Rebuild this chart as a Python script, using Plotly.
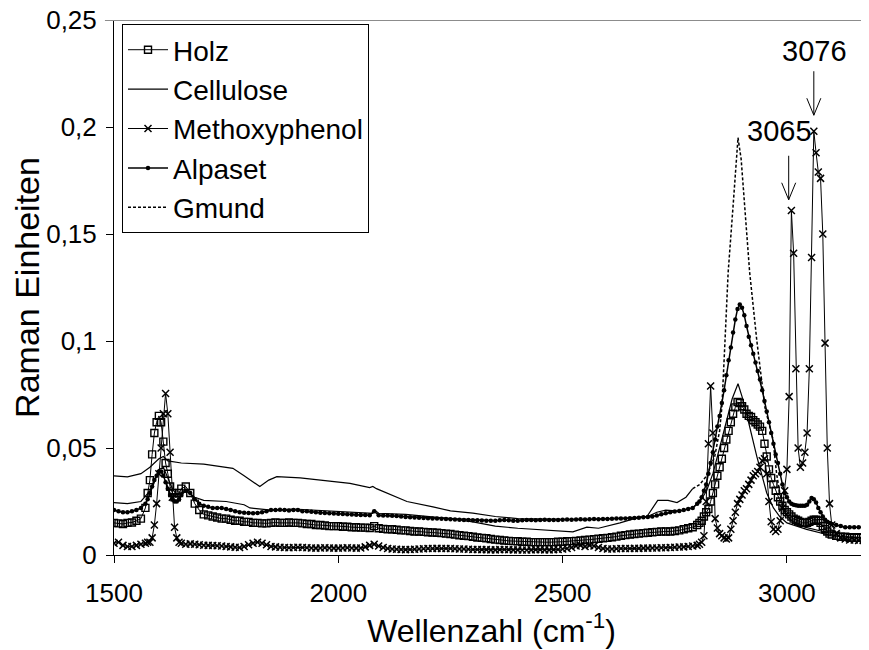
import plotly.graph_objects as go

# shared wavenumber grid (cm-1) for the marker series
wavenumber = [
    1500, 1510, 1520, 1530, 1540, 1550, 1560, 1570,
    1575, 1580, 1585, 1590, 1595, 1600, 1605, 1610, 1615, 1620, 1625, 1630, 1635, 1640, 1645, 1650,
    1660, 1670, 1680, 1690, 1700, 1710, 1720, 1730, 1740, 1750,
    1760, 1770, 1780, 1790, 1800, 1810, 1820, 1830, 1840, 1850,
    1860, 1870, 1880, 1890, 1900, 1910, 1920, 1930, 1940, 1950,
    1960, 1970, 1980, 1990, 2000, 2010, 2020, 2030, 2040, 2050,
    2060, 2070, 2080, 2090, 2100, 2110, 2120, 2130, 2140, 2150,
    2160, 2170, 2180, 2190, 2200, 2210, 2220, 2230, 2240, 2250,
    2260, 2270, 2280, 2290, 2300, 2310, 2320, 2330, 2340, 2350,
    2360, 2370, 2380, 2390, 2400, 2410, 2420, 2430, 2440, 2450,
    2460, 2470, 2480, 2490, 2500, 2510, 2520, 2530, 2540, 2550,
    2560, 2570, 2580, 2590, 2600, 2610, 2620, 2630, 2640, 2650,
    2660, 2670, 2680, 2690, 2700, 2710, 2720, 2730, 2740, 2750,
    2760, 2770, 2780, 2790, 2800,
    2805, 2810, 2815, 2820, 2825, 2830, 2835, 2840, 2845, 2850,
    2855, 2860, 2865, 2870, 2875, 2880, 2885, 2890, 2895, 2900,
    2905, 2910, 2915, 2920, 2925, 2930, 2935, 2940, 2945, 2950,
    2955, 2960, 2965, 2970, 2975, 2980, 2985, 2990, 2995, 3000,
    3005, 3010, 3015, 3020, 3025, 3030, 3035, 3040, 3045, 3050,
    3055, 3060, 3065, 3070, 3075, 3080, 3085, 3090, 3095, 3100,
    3110, 3120, 3130, 3140, 3150, 3160, 3170, 3180,
]

holz = [
    0.015, 0.0148, 0.0145, 0.015, 0.0152, 0.016, 0.017, 0.022,
    0.029, 0.035, 0.047, 0.057, 0.062, 0.065, 0.062, 0.053, 0.043, 0.038, 0.032, 0.029, 0.027, 0.027, 0.029, 0.031,
    0.032, 0.029, 0.024, 0.021, 0.019, 0.0185, 0.018, 0.0175, 0.017, 0.017,
    0.0165, 0.016, 0.016, 0.0155, 0.0155, 0.015, 0.015, 0.0148, 0.0148, 0.015,
    0.0152, 0.015, 0.015, 0.0152, 0.015, 0.015, 0.0148, 0.0145, 0.0145, 0.014,
    0.014, 0.0138, 0.0135, 0.0135, 0.0135, 0.0132, 0.0132, 0.013, 0.013, 0.0128,
    0.0128, 0.0126, 0.0135, 0.0125, 0.0122, 0.012, 0.012, 0.0118, 0.0115, 0.0115,
    0.0112, 0.011, 0.011, 0.0108, 0.0106, 0.0105, 0.0104, 0.0102, 0.010, 0.0098,
    0.0095, 0.0092, 0.009, 0.0088, 0.0085, 0.0082, 0.008, 0.0078, 0.0075, 0.0072,
    0.007, 0.0068, 0.0066, 0.0065, 0.0064, 0.0062, 0.0062, 0.006, 0.006, 0.006,
    0.006, 0.006, 0.006, 0.0062, 0.0062, 0.0064, 0.0065, 0.0066, 0.0068, 0.007,
    0.0072, 0.0074, 0.0076, 0.0078, 0.008, 0.0083, 0.0086, 0.009, 0.0093, 0.0096,
    0.0098, 0.010, 0.0102, 0.0104, 0.0106, 0.0108, 0.011, 0.011, 0.011, 0.0112,
    0.0115, 0.012, 0.0125, 0.013, 0.014,
    0.015, 0.016, 0.018, 0.020, 0.0215, 0.025, 0.029, 0.033, 0.037, 0.041,
    0.045, 0.050, 0.054, 0.058, 0.062, 0.066, 0.069, 0.0715, 0.071, 0.0695,
    0.068, 0.066, 0.065, 0.0645, 0.063, 0.062, 0.061, 0.060, 0.058, 0.052,
    0.046, 0.040, 0.036, 0.033, 0.030, 0.027, 0.025, 0.023, 0.021, 0.020,
    0.019, 0.018, 0.017, 0.0165, 0.016, 0.0155, 0.015, 0.015, 0.015, 0.0155,
    0.016, 0.0165, 0.0165, 0.016, 0.015, 0.0135, 0.012, 0.011, 0.010, 0.0095,
    0.009, 0.0085, 0.0085, 0.008, 0.008, 0.008, 0.008, 0.008,
]

methoxyphenol = [
    0.0055, 0.006, 0.0045, 0.004, 0.004, 0.0045, 0.005, 0.0055,
    0.006, 0.006, 0.008, 0.014, 0.024, 0.038, 0.050, 0.066, 0.0755, 0.066, 0.048, 0.027, 0.013, 0.008, 0.006, 0.0055,
    0.005, 0.0052, 0.005, 0.0048, 0.0046, 0.0045, 0.0044, 0.0043, 0.0042, 0.004,
    0.0038, 0.0036, 0.0035, 0.004, 0.0048, 0.0055, 0.006, 0.0055, 0.0048, 0.004,
    0.0038, 0.0036, 0.0035, 0.0034, 0.0035, 0.0036, 0.0035, 0.0034, 0.0033, 0.0032,
    0.0033, 0.0034, 0.0033, 0.0032, 0.0032, 0.0033, 0.0034, 0.0033, 0.0032, 0.0033,
    0.0038, 0.0045, 0.005, 0.0042, 0.0035, 0.003, 0.0028, 0.0027, 0.0026, 0.0025,
    0.0026, 0.0027, 0.0028, 0.0029, 0.003, 0.003, 0.0031, 0.003, 0.003, 0.003,
    0.0029, 0.0028, 0.0028, 0.0027, 0.0026, 0.0026, 0.0025, 0.0025, 0.0024, 0.0024,
    0.0025, 0.0026, 0.0025, 0.0024, 0.0024, 0.0023, 0.0023, 0.0024, 0.0025, 0.0025,
    0.0024, 0.0024, 0.0025, 0.0026, 0.0028, 0.003, 0.0035, 0.0042, 0.0045, 0.004,
    0.0045, 0.0042, 0.0035, 0.003, 0.0028, 0.0028, 0.0029, 0.003, 0.003, 0.003,
    0.0031, 0.0031, 0.0032, 0.0032, 0.0033, 0.0033, 0.0034, 0.0034, 0.0035, 0.0036,
    0.0037, 0.0038, 0.004, 0.0042, 0.0045,
    0.005, 0.006, 0.009, 0.025, 0.052, 0.079, 0.057, 0.017, 0.0126, 0.010,
    0.009, 0.008, 0.0075, 0.008, 0.012, 0.016, 0.020, 0.024, 0.026, 0.028,
    0.030, 0.031, 0.033, 0.035, 0.037, 0.038, 0.039, 0.041, 0.044, 0.045,
    0.038, 0.025, 0.0155, 0.012, 0.011, 0.012, 0.016, 0.022, 0.030, 0.040,
    0.074, 0.161, 0.141, 0.087, 0.050, 0.041, 0.043, 0.048, 0.057, 0.087,
    0.139, 0.198, 0.188, 0.179, 0.176, 0.150, 0.099, 0.050, 0.024, 0.014,
    0.010, 0.008, 0.0075, 0.007, 0.007, 0.0068, 0.0068, 0.0068,
]

alpaset = [
    0.021, 0.0205, 0.020, 0.020, 0.0205, 0.021, 0.022, 0.024,
    0.026, 0.029, 0.032, 0.035, 0.037, 0.039, 0.039, 0.037, 0.034, 0.031, 0.028, 0.026, 0.025, 0.025, 0.026, 0.028,
    0.030, 0.029, 0.026, 0.024, 0.023, 0.0225, 0.022, 0.022, 0.022, 0.0215,
    0.021, 0.0205, 0.020, 0.0198, 0.0196, 0.0195, 0.0196, 0.020, 0.0205, 0.021,
    0.021, 0.0212, 0.021, 0.0208, 0.021, 0.021, 0.0205, 0.0205, 0.0202, 0.020,
    0.0198, 0.0196, 0.0195, 0.0194, 0.0193, 0.0192, 0.019, 0.0189, 0.0188, 0.0187,
    0.0187, 0.0186, 0.0205, 0.0186, 0.0185, 0.0184, 0.0183, 0.0182, 0.018, 0.0178,
    0.0176, 0.0175, 0.0174, 0.0173, 0.0172, 0.0171, 0.017, 0.0169, 0.0168, 0.0167,
    0.0166, 0.0165, 0.0164, 0.0163, 0.0162, 0.0162, 0.0161, 0.016, 0.016, 0.016,
    0.0162, 0.0164, 0.0162, 0.016, 0.016, 0.0162, 0.0164, 0.0163, 0.0162, 0.0163,
    0.0165, 0.0164, 0.0163, 0.0164, 0.0165, 0.0166, 0.0165, 0.0166, 0.0167, 0.0166,
    0.0167, 0.0168, 0.0167, 0.0168, 0.0168, 0.0169, 0.017, 0.017, 0.0171, 0.0172,
    0.0173, 0.0174, 0.0176, 0.0178, 0.018, 0.0185, 0.019, 0.0195, 0.020, 0.0203,
    0.0206, 0.021, 0.0215, 0.022, 0.024,
    0.025, 0.027, 0.030, 0.033, 0.038, 0.043, 0.048, 0.054, 0.060, 0.065,
    0.071, 0.077, 0.084, 0.091, 0.097, 0.104, 0.110, 0.115, 0.117, 0.1155,
    0.112, 0.107, 0.102, 0.098, 0.094, 0.090, 0.086, 0.082, 0.077, 0.072,
    0.067, 0.062, 0.057, 0.052, 0.047, 0.043, 0.038, 0.033, 0.029, 0.027,
    0.025, 0.024, 0.0235, 0.0232, 0.023, 0.023, 0.023, 0.023, 0.0235, 0.025,
    0.0266, 0.026, 0.0245, 0.022, 0.020, 0.018, 0.0165, 0.0155, 0.015, 0.0145,
    0.014, 0.0135, 0.013, 0.013, 0.013, 0.013, 0.013, 0.013,
]

# line-only series, sampled where the curve bends
cellulose_wn = [
    1500, 1530, 1560, 1580, 1600, 1610, 1620, 1650, 1700, 1765,
    1790, 1810, 1825, 1845, 1863, 1915, 1975, 2026, 2070, 2077,
    2085, 2120, 2153, 2211, 2250, 2300, 2350, 2400, 2450, 2500,
    2550, 2600, 2650, 2690, 2710, 2730, 2760, 2790, 2806, 2821,
    2835, 2850, 2865, 2878, 2891, 2900, 2910, 2933, 2955, 2970,
    2984, 3000, 3044, 3080, 3100, 3130, 3180,
]
cellulose = [
    0.037, 0.0365, 0.038, 0.041, 0.045, 0.046, 0.044, 0.043, 0.0425, 0.0405,
    0.037, 0.034, 0.032, 0.035, 0.0366, 0.036, 0.0345, 0.0335, 0.0315, 0.032,
    0.031, 0.028, 0.025, 0.0225, 0.0206, 0.0196, 0.018, 0.017, 0.0168, 0.0165,
    0.0165, 0.017, 0.0172, 0.018, 0.020, 0.021, 0.0205, 0.022, 0.025, 0.030,
    0.038, 0.050, 0.062, 0.073, 0.080, 0.074, 0.066, 0.046, 0.029, 0.022,
    0.018, 0.015, 0.012, 0.010, 0.009, 0.0085, 0.008,
]

gmund_wn = [
    1500, 1530, 1560, 1580, 1590, 1600, 1610, 1620, 1630, 1640,
    1660, 1680, 1700, 1750, 1790, 1803, 1850, 1900, 1950, 2000,
    2050, 2077, 2081, 2090, 2150, 2200, 2250, 2300, 2350, 2400,
    2449, 2500, 2523, 2554, 2580, 2628, 2660, 2688, 2700, 2712,
    2735, 2755, 2775, 2790, 2806, 2821, 2839, 2850, 2855, 2862,
    2869, 2880, 2891, 2898, 2906, 2917, 2933, 2951, 2969, 2977,
    2985, 2995, 3010, 3040, 3080, 3120, 3180,
]
gmund = [
    0.0245, 0.024, 0.025, 0.030, 0.035, 0.040, 0.041, 0.036, 0.031, 0.028,
    0.030, 0.027, 0.0255, 0.025, 0.0235, 0.022, 0.021, 0.0215, 0.021, 0.0205,
    0.020, 0.0195, 0.021, 0.0195, 0.019, 0.018, 0.017, 0.0155, 0.0135, 0.0125,
    0.0117, 0.0112, 0.0108, 0.013, 0.0125, 0.015, 0.017, 0.018, 0.0215, 0.0255,
    0.0255, 0.0245, 0.027, 0.031, 0.033, 0.037, 0.046, 0.058, 0.069, 0.100,
    0.132, 0.163, 0.195, 0.185, 0.163, 0.132, 0.100, 0.069, 0.054, 0.038,
    0.028, 0.020, 0.016, 0.013, 0.011, 0.010, 0.010,
]

# peak labels: (text, label x, label y, arrow tip x, arrow tip y)
peak_labels = [
    ("3065", 2984, 0.198, 3004, 0.166),
    ("3076", 3062, 0.2355, 3060, 0.2055),
]

FONT = "Liberation Sans, Arial, sans-serif"

fig = go.Figure()

fig.add_trace(go.Scatter(
    x=wavenumber, y=holz, name="Holz", mode="lines+markers",
    line=dict(color="black", width=1),
    marker=dict(symbol="square-open", size=7, color="black", line=dict(width=1.4, color="black")),
))
fig.add_trace(go.Scatter(
    x=cellulose_wn, y=cellulose, name="Cellulose", mode="lines",
    line=dict(color="black", width=1.2),
))
fig.add_trace(go.Scatter(
    x=wavenumber, y=methoxyphenol, name="Methoxyphenol", mode="lines+markers",
    line=dict(color="black", width=1),
    marker=dict(symbol="x-thin", size=7, color="black", line=dict(width=1.5, color="black")),
))
fig.add_trace(go.Scatter(
    x=wavenumber, y=alpaset, name="Alpaset", mode="lines+markers",
    line=dict(color="black", width=1.5),
    marker=dict(symbol="circle", size=4.5, color="black"),
))

# Gmund: dotted where the curve is steep, looks solid in the flat parts
steep = [2790 <= w <= 2985 for w in gmund_wn]
fig.add_trace(go.Scatter(
    x=gmund_wn,
    y=[v if (w <= 2790 or w >= 2985) else None for w, v in zip(gmund_wn, gmund)],
    mode="lines", showlegend=False, connectgaps=False,
    line=dict(color="black", width=1.2),
))
fig.add_trace(go.Scatter(
    x=gmund_wn,
    y=[v if s else None for v, s in zip(gmund, steep)],
    name="Gmund", mode="lines",
    line=dict(color="black", width=1.5, dash="3px,2px"),
))

for text, tx, ty, ax_, ay_ in peak_labels:
    fig.add_annotation(
        x=tx, y=ty, text=text, showarrow=False,
        font=dict(family=FONT, size=29, color="black"),
    )
    # open V arrow drawn in pixels, anchored at the tip
    fig.add_shape(
        type="path", xref="x", yref="y",
        xsizemode="pixel", ysizemode="pixel",
        xanchor=ax_, yanchor=ay_,
        path="M0,0 L0,44 M-7,17 L0,0 L7,17",
        line=dict(color="black", width=1),
    )

# grey top frame line
fig.add_shape(
    type="line", xref="paper", yref="y", x0=-0.012, x1=1, y0=0.25, y1=0.25,
    line=dict(color="#8c8c8c", width=2),
)

# the page body adds an 8px offset, so the figure is sized to the visible area
fig.update_layout(
    width=861, height=642,
    margin=dict(l=106, r=0, t=12, b=95),
    paper_bgcolor="white", plot_bgcolor="white",
    font=dict(family=FONT, color="black"),
    separators=",.",
    showlegend=True,
    legend=dict(
        x=0.0106, y=0.9925, xanchor="left", yanchor="top",
        bgcolor="white", bordercolor="black", borderwidth=1,
        font=dict(size=28, family=FONT),
        itemwidth=40, tracegroupgap=0,
    ),
    xaxis=dict(
        range=[1500, 3183], tickvals=[1500, 2000, 2500, 3000],
        showline=True, linecolor="black", linewidth=1,
        ticks="outside", ticklen=7, tickcolor="black",
        showgrid=False, zeroline=False, automargin=False,
        tickfont=dict(size=26), ticklabelstandoff=8,
        title=dict(text="Wellenzahl (cm<sup>-1</sup>)", font=dict(size=32), standoff=2),
    ),
    yaxis=dict(
        range=[0, 0.25], dtick=0.05,
        showline=True, linecolor="black", linewidth=1,
        ticks="outside", ticklen=7, tickcolor="black",
        showgrid=False, zeroline=False, automargin=False,
        tickfont=dict(size=26), ticklabelstandoff=4, ticklabeloverflow="allow",
        title=dict(text="Raman Einheiten", font=dict(size=34), standoff=4),
    ),
)

fig.write_html("out.html")
